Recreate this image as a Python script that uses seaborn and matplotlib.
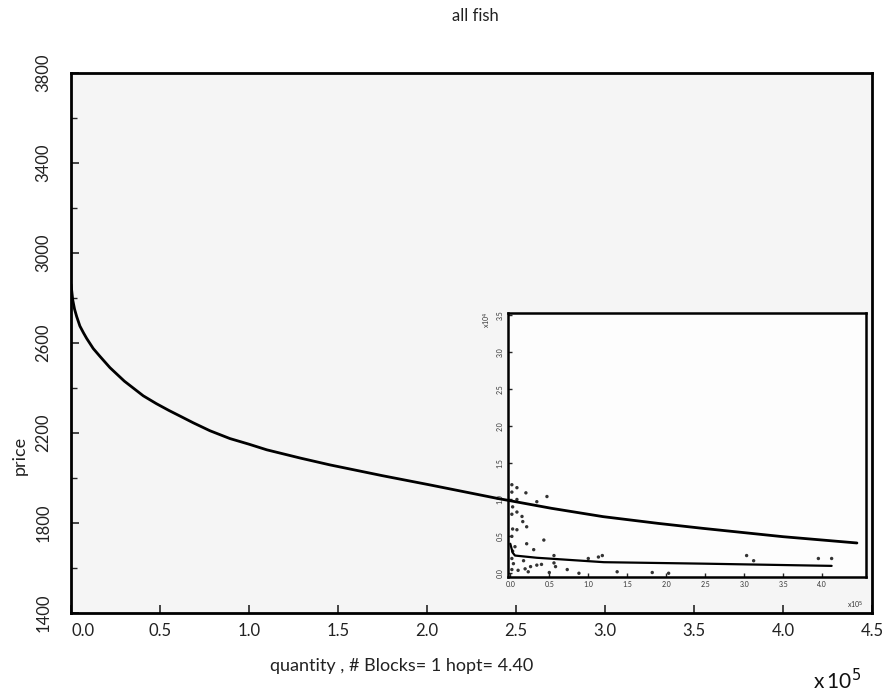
import numpy as np
import pandas as pd
import matplotlib
matplotlib.use("Agg")
import matplotlib.pyplot as plt
import matplotlib.transforms as mtransforms
import seaborn as sns

# ---- data (main curve), quantity in units of 1e5 ----
quantity = [0.0, 0.01, 0.02, 0.032, 0.05, 0.07, 0.088, 0.125, 0.163, 0.219,
            0.3, 0.406, 0.48, 0.55, 0.62, 0.687, 0.78, 0.893, 1.0, 1.1,
            1.29, 1.455, 1.75, 2.017, 2.39, 2.7, 2.99, 3.3, 3.55, 4.0, 4.416]
price = [2860, 2790, 2750, 2717, 2675, 2645, 2620, 2575, 2540, 2490,
         2430, 2365, 2330, 2300, 2272, 2245, 2210, 2175, 2150, 2125,
         2088, 2058, 2010, 1969, 1910, 1865, 1828, 1798, 1776, 1739, 1711]

# ---- inset data ----
inset_x = [0.085, 0.20, 0.47, 0.34, 0.085, 0.15, 0.16, 0.21, 0.085, 0.21,
           0.43, 0.30, 0.06, 0.56, 0.56, 0.34, 0.40, 0.26, 0.19, 0.10,
           0.23, 0.50, 0.73, 0.88, 1.00, 1.13, 1.18, 1.37, 1.82, 2.03,
           3.03, 3.12, 3.95, 4.12, 0.58, 0.04, 0.17, 0.085,
           0.02, 0.02, 0.03, 0.02, 0.03, 0.02, 0.03, 0.02, 0.02]
inset_y = [1.16, 1.09, 1.04, 0.97, 1.00, 0.77, 0.70, 0.63, 0.59, 0.40,
           0.45, 0.32, 0.36, 0.24, 0.14, 0.11, 0.12, 0.09, 0.06, 0.04,
           0.02, 0.01, 0.05, 0.00, 0.20, 0.22, 0.24, 0.02, 0.01, 0.00,
           0.24, 0.17, 0.20, 0.20, 0.09, 0.13, 0.17, 0.83,
           1.20, 1.10, 0.90, 0.80, 0.60, 0.50, 0.30, 0.20, 0.05]
inset_fit_x = [0.0, 0.03, 0.06, 0.34, 1.2, 2.48, 4.12]
inset_fit_y = [0.40, 0.28, 0.24, 0.21, 0.15, 0.13, 0.10]

x_ticks = [0.0, 0.5, 1.0, 1.5, 2.0, 2.5, 3.0, 3.5, 4.0, 4.5]
x_ticklabels = ["0.0", "0.5", "1.0", "1.5", "2.0", "2.5", "3.0", "3.5", "4.0", "4.5"]
y_ticks = [1400, 1800, 2200, 2600, 3000, 3400, 3800]
y_ticklabels = ["1400", "1800", "2200", "2600", "3000", "3400", "3800"]
inset_xticks = [0.0, 0.5, 1.0, 1.5, 2.0, 2.5, 3.0, 3.5, 4.0]
inset_yticks = [0.0, 0.5, 1.0, 1.5, 2.0, 2.5, 3.0, 3.5]

sns.set_style("ticks")
plt.rcParams['font.family'] = ['Lato', 'DejaVu Sans']

fig = plt.figure(figsize=(8.83, 6.96), dpi=100)
ax = fig.add_axes([0.0804, 0.1193, 0.907, 0.776])
ax.set_facecolor("#f5f5f5")

main_df = pd.DataFrame({"quantity": quantity, "price": price})
sns.lineplot(data=main_df, x="quantity", y="price", ax=ax, color="black",
             linewidth=2.0, zorder=10, sort=False)

ax.set_xlim(0, 4.5)
ax.set_ylim(1400, 3800)
ax.set_xticks(x_ticks)
ax.set_xticklabels(x_ticklabels, fontsize=12, color="#222222")
ax.set_yticks(y_ticks)
ax.set_yticklabels(y_ticklabels, fontsize=12, rotation=90, va="center", color="#222222")
ax.set_yticks(np.arange(1400, 3801, 200), minor=True)
ax.tick_params(axis="both", direction="in", length=6, width=1.2)
ax.tick_params(axis="x", pad=7)
ax.tick_params(axis="y", pad=14)
ax.tick_params(axis="y", which="minor", direction="in", length=4, width=1.0)
for s in ax.spines.values():
    s.set_linewidth(2.0)
    s.set_color("black")
ax.set_xlabel("")
ax.set_ylabel("")
# shift the first x label right a bit (as in the original)
first = ax.get_xticklabels()[0]
first.set_transform(first.get_transform() + mtransforms.ScaledTranslation(0.12, 0, fig.dpi_scale_trans))

fig.text(0.538, 0.977, "all fish", ha="center", va="center", fontsize=12, color="#222222")
fig.text(0.022, 0.345, "price", ha="center", va="center", rotation=90, fontsize=13, color="#222222")
fig.text(0.455, 0.043, "quantity , # Blocks= 1 hopt= 4.40", ha="center", va="center",
         fontsize=13, color="#222222")
fig.text(0.948, 0.022, r"x$\,$10$^{5}$", ha="center", va="center", fontsize=15, color="#111111")

# ---- inset (child of main axes, drawn below the main curve) ----
axi = ax.inset_axes([0.5456, 0.0667, 0.447, 0.489])
axi.set_facecolor("#fdfdfd")
scat_df = pd.DataFrame({"x": inset_x, "y": inset_y})
sns.scatterplot(data=scat_df, x="x", y="y", ax=axi, color="#333333", s=6,
                edgecolor="none", legend=False)
fit_df = pd.DataFrame({"x": inset_fit_x, "y": inset_fit_y})
sns.lineplot(data=fit_df, x="x", y="y", ax=axi, color="black", linewidth=1.6, sort=False)
axi.set_xlim(-0.03, 4.56)
axi.set_ylim(-0.05, 3.53)
axi.set_xticks(inset_xticks)
axi.set_xticklabels([f"{v:.1f}" for v in inset_xticks], fontsize=5, color="#333333")
axi.set_yticks(inset_yticks)
axi.set_yticklabels([f"{v:.1f}" for v in inset_yticks], fontsize=5, rotation=90,
                    va="center", color="#333333")
axi.tick_params(axis="both", direction="in", length=3, width=1.0, pad=3)
for s in axi.spines.values():
    s.set_linewidth(1.8)
    s.set_color("black")
axi.set_xlabel("")
axi.set_ylabel("")
fig.text(0.552, 0.54, r"x10$^{4}$", rotation=90, ha="center", va="center", fontsize=5, color="#333333")
fig.text(0.968, 0.13, r"x10$^{5}$", ha="center", va="center", fontsize=5, color="#333333")

fig.savefig("out.png", dpi=100, facecolor="white")
